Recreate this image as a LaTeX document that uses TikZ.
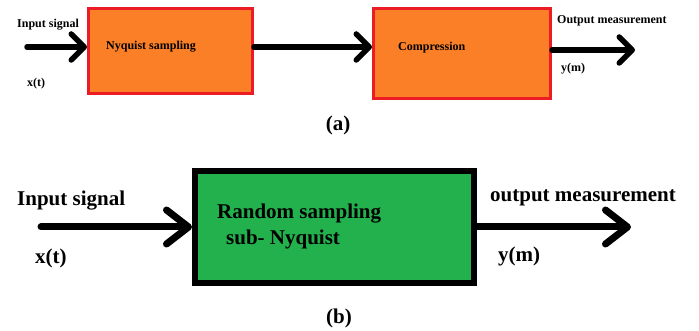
\documentclass[tikz,border=0pt]{standalone}
\usepackage{fontspec}
\setmainfont{Liberation Serif}
\usetikzlibrary{arrows.meta}
\definecolor{boxorange}{HTML}{FA7F26}
\definecolor{boxred}{HTML}{EC1C24}
\definecolor{boxgreen}{HTML}{22B14C}
\tikzset{
  smalltxt/.style={inner sep=0pt, anchor=west, font=\fontsize{12}{14}\selectfont\bfseries},
  bigtxt/.style={inner sep=0pt, anchor=west, font=\fontsize{21}{24}\selectfont\bfseries},
  captxt/.style={inner sep=0pt, font=\fontsize{21}{24}\selectfont\bfseries},
  orangebox/.style={draw=boxred, fill=boxorange, line width=3pt, inner sep=0pt},
  greenbox/.style={draw=black, fill=boxgreen, line width=6pt, inner sep=0pt},
  arrA/.style={line width=5.5pt, line cap=round, -{Straight Barb[length=13pt,width=26pt,round]}},
  arrB/.style={line width=7pt, line cap=round, -{Straight Barb[length=22pt,width=34pt,round]}},
}
\begin{document}
\begin{tikzpicture}[x=1pt,y=-1pt]
\useasboundingbox (0,0) rectangle (699,331);
% (a)
\node[orangebox, minimum width=164pt, minimum height=85pt] (b1) at (170.5,51) {};
\node[orangebox, minimum width=177pt, minimum height=90pt] (b2) at (462,53.5) {};
\coordinate (ain) at (27,47);
\coordinate (aout) at (635,50);
\draw[arrA] (ain) -- (ain -| b1.west);
\draw[arrA] ([yshift=4pt]b1.east) -- ([yshift=4pt]b1.east -| b2.west);
\draw[arrA] ([yshift=3.5pt]b2.east) -- (aout);
\node[smalltxt] (t1) at (17,25) {Input signal};
\node[smalltxt] (t2) at (27,84) {x(t)};
\node[smalltxt] (t3) at (106,47) {Nyquist sampling};
\node[smalltxt] (t4) at (398,48) {Compression};
\node[smalltxt] (t5) at (557,21) {Output measurement};
\node[smalltxt] (t6) at (561,69) {y(m)};
\node[captxt] (ca) at (338,125) {(a)};
% (b)
\node[greenbox, minimum width=279pt, minimum height=111pt] (g) at (334.5,227) {};
\coordinate (bin) at (41,227);
\coordinate (bout) at (631,227);
\draw[arrB] (bin) -- (bin -| g.west);
\draw[arrB] (g.east) -- (bout);
\node[bigtxt] (u1) at (17,201) {Input signal};
\node[bigtxt] (u2) at (35,258) {x(t)};
\node[bigtxt] (u3) at (217,214) {Random sampling};
\node[bigtxt] (u4) at (226,239) {sub- Nyquist};
\node[bigtxt] (u5) at (490,198) {output measurement};
\node[bigtxt] (u6) at (498,256) {y(m)};
\node[captxt] (cb) at (339,318) {(b)};
\end{tikzpicture}
\end{document}
